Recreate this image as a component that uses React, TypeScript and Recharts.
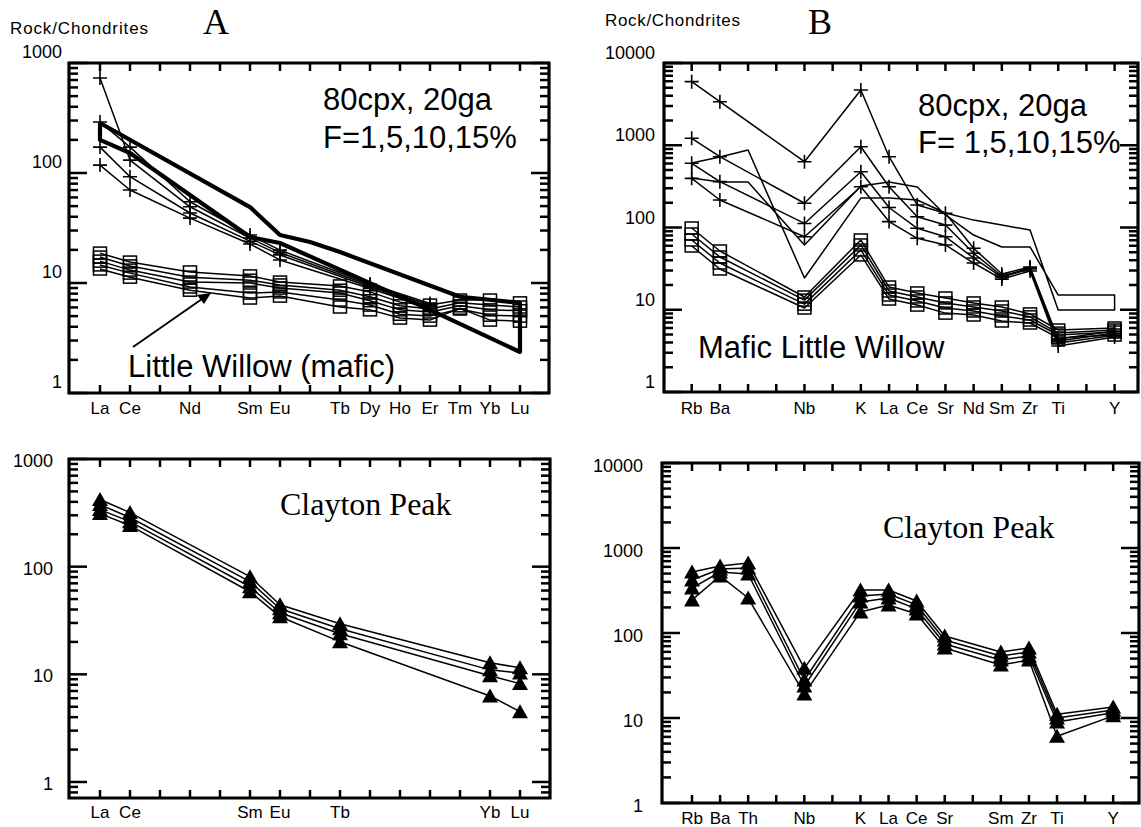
import React from 'react';
import { ScatterChart, Scatter, XAxis, YAxis, ReferenceArea } from 'recharts';

// element order on the x axes
const REE = ['La', 'Ce', 'Pr', 'Nd', 'Pm', 'Sm', 'Eu', 'Gd', 'Tb', 'Dy', 'Ho', 'Er', 'Tm', 'Yb', 'Lu'];
const reeLabelsLW = ['La', 'Ce', 'Nd', 'Sm', 'Eu', 'Tb', 'Dy', 'Ho', 'Er', 'Tm', 'Yb', 'Lu'];
const reeLabelsCP = ['La', 'Ce', 'Sm', 'Eu', 'Tb', 'Yb', 'Lu'];
const spiderLW = ['Rb', 'Ba', '', '', 'Nb', '', 'K', 'La', 'Ce', 'Sr', 'Nd', 'Sm', 'Zr', 'Ti', '', 'Y'];
const spiderCP = ['Rb', 'Ba', 'Th', '', 'Nb', '', 'K', 'La', 'Ce', 'Sr', '', 'Sm', 'Zr', 'Ti', '', 'Y'];

// A top - melt models (+)
const aCrossEl = ['La', 'Ce', 'Nd', 'Sm', 'Eu', 'Dy', 'Er'];
const aCross1 = [731, 131, 49.3, 25.6, 18.9, 9.5, 6.3];
const aCross2 = [291, 172, 54.8, 27.3, 19.9, 9.8, 6.5];
const aCross3 = [172, 92.5, 43.3, 24, 18, 9.2, 6.1];
const aCross4 = [118, 70, 38.9, 22.6, 16.2, 8.9, 5.9];

// A top - thick envelope (80cpx, 20ga)
const aEnvUpEl = ['La', 'Sm', 'Eu', 'Gd', 'Tb', 'Tm', 'Lu'];
const aEnvUp = [285, 49, 27.3, 23.6, 19.1, 7.5, 6.6];
const aEnvLoEl = ['Lu', 'Er', 'Eu', 'Sm', 'Ce', 'La'];
const aEnvLo = [2.36, 5.7, 23.1, 26.2, 152, 200];

// A top - Little Willow (mafic)
const aLwEl = ['La', 'Ce', 'Nd', 'Sm', 'Eu', 'Tb', 'Dy', 'Ho', 'Er', 'Tm', 'Yb', 'Lu'];
const aLw1 = [18.7, 15.5, 12.6, 11.6, 10.2, 9.4, 8.3, 6.7, 6.3, 7.0, 7.0, 6.6];
const aLw2 = [17.2, 14.3, 11.3, 10.6, 9.6, 8.6, 7.5, 6.2, 5.8, 6.6, 6.3, 6.05];
const aLw3 = [15.8, 13.1, 10.2, 10.0, 9.0, 8.1, 6.9, 5.7, 5.45, 6.2, 5.7, 5.6];
const aLw4 = [14.6, 12.3, 9.2, 8.1, 8.3, 7.0, 6.3, 5.2, 5.0, 5.8, 5.1, 5.0];
const aLw5 = [13.4, 11.3, 8.6, 7.3, 7.6, 6.05, 5.7, 4.8, 4.6, 5.9, 4.6, 4.5];

// A bottom - Clayton Peak
const aCpEl = ['La', 'Ce', 'Sm', 'Eu', 'Tb', 'Yb', 'Lu'];
const aCp1 = [420, 318, 80.7, 44.3, 29.5, 12.8, 11.5];
const aCp2 = [377, 286, 72.5, 40.7, 26.5, 11.0, 10.3];
const aCp3 = [339, 262, 65.1, 37.3, 23.8, 9.7, 8.2];
const aCp4 = [311, 241, 58.5, 34.3, 20.1, 6.3, 4.5];

// B top - melt models (+)
const bCrossEl = ['Rb', 'Ba', 'Nb', 'K', 'La', 'Ce', 'Sr', 'Nd', 'Sm', 'Zr', 'Ti', 'Y'];
const bCross1 = [5930, 3385, 631, 4695, 726, 188, 149, 55.9, 27.2, 33.1, 4.4, 5.5];
const bCross2 = [1215, 726, 197, 960, 313, 135, 107, 48.6, 25.7, 32.2, 4.17, 5.2];
const bCross3 = [603, 361, 112, 477, 175, 97.8, 77.3, 42.6, 25, 31.3, 3.94, 4.9];
const bCross4 = [396, 216, 77.3, 313, 118, 73.9, 61.3, 37, 23.6, 29.6, 3.63, 4.66];

// B top - thin envelope
const bEnvUpEl = ['Rb', 'Ba', 'Th', 'Nb', 'K', 'La', 'Ce', 'Sr', 'Nd', 'Sm', 'Zr', 'Ti', 'Y'];
const bEnvUp = [608, 719, 876, 24.3, 228, 228, 216, 150, 123, 107, 93.3, 9.93, 9.93];
const bEnvLoEl = ['Y', 'Ti', 'Zr', 'Sm', 'Nd', 'Sr', 'Ce', 'La', 'K', 'Nb', 'Th', 'Ba', 'Rb'];
const bEnvLo = [15.1, 15.1, 58, 58, 81, 142, 311, 357, 320, 61.3, 357, 357, 400];

// B top - Mafic Little Willow
const bLwEl = ['Rb', 'Ba', 'Nb', 'K', 'La', 'Ce', 'Sr', 'Nd', 'Sm', 'Zr', 'Ti', 'Y'];
const bLw1 = [98.6, 51.8, 14.3, 70.5, 18.9, 16, 13.9, 12.1, 10.8, 8.9, 5.67, 6.0];
const bLw2 = [83.4, 43.8, 13.1, 61.3, 16.9, 14.3, 12.1, 10.8, 9.66, 8.2, 5.2, 5.67];
const bLw3 = [70.5, 37, 11.7, 53.3, 15.1, 12.8, 10.5, 9.66, 8.4, 7.5, 4.93, 5.36];
const bLw4 = [59.6, 31.3, 10.5, 46.4, 13.5, 11.4, 9.1, 8.63, 7.3, 6.9, 4.54, 4.93];

// B bottom - Clayton Peak
const bCpEl = ['Rb', 'Ba', 'Th', 'Nb', 'K', 'La', 'Ce', 'Sr', 'Sm', 'Zr', 'Ti', 'Y'];
const bCp1 = [522, 614, 666, 38.6, 321, 321, 238, 92, 59.8, 66.6, 11.1, 13.5];
const bCp2 = [420, 566, 582, 28, 272, 288, 214, 82.8, 53.7, 59.8, 10, 12.4];
const bCp3 = [338, 522, 494, 23.8, 232, 258, 192, 74.3, 48.1, 53.7, 8.97, 11.5];
const bCp4 = [245, 469, 258, 19.2, 177, 214, 167, 66.6, 42.1, 48.1, 6.1, 10.6];

type Pt = { x: number; y: number };
type Mark = 'cross' | 'square' | 'tri' | 'none';
type Series = { data: Pt[]; mark: Mark; sw: number };

const pts = (order: string[], els: string[], vals: number[]): Pt[] =>
  els.map((e, i) => ({ x: order.indexOf(e), y: vals[i] }));

const polygon = (a: Pt[], b: Pt[]): Pt[] => [...a, ...b, a[0]];

const FONT = '"Liberation Sans", Arial, Helvetica, sans-serif';
const SERIF = '"Liberation Serif", "Times New Roman", serif';

const logTicks = (lo: number, hi: number) => {
  const out: number[] = [];
  for (let e = Math.floor(Math.log10(lo)); e <= Math.ceil(Math.log10(hi)); e++) {
    for (let k = 1; k <= 9; k++) {
      const v = +(k * Math.pow(10, e)).toPrecision(6);
      if (v >= lo * 0.999 && v <= hi * 1.001) out.push(v);
    }
  }
  return out;
};

const isMajor = (v: number) => Math.abs(Math.log10(v) - Math.round(Math.log10(v))) < 1e-6;

const shapes: Record<Mark, (p: any) => React.ReactElement> = {
  cross: (p) => (
    <path d={`M${p.cx - 7},${p.cy}H${p.cx + 7}M${p.cx},${p.cy - 7}V${p.cy + 7}`} stroke="#000" strokeWidth={1.6} fill="none" />
  ),
  square: (p) => (
    <rect x={p.cx - 6.5} y={p.cy - 6} width={13} height={12} fill="none" stroke="#000" strokeWidth={1.5} />
  ),
  tri: (p) => <path d={`M${p.cx},${p.cy - 7.5}L${p.cx + 8},${p.cy + 6.5}L${p.cx - 8},${p.cy + 6.5}Z`} fill="#000" />,
  none: () => <g />,
};

interface PanelProps {
  frame: { x: number; y: number; w: number; h: number };
  xDomain: [number, number];
  yDomain: [number, number];
  labels: string[]; // one per x position, '' = no label
  labelDy: number;
  labelGap: number;
  xLabelDy: number;
  series: Series[];
}

// space around the frame; axes are 1px wide so the margin is one less
const PAD = { top: 30, right: 12, bottom: 30, left: 72 };
const AX = 1;
const TICK_W = 2.5;
const FRAME_W = 3.2;

const Panel: React.FC<PanelProps> = ({ frame, xDomain, yDomain, labels, labelDy, labelGap, xLabelDy, series }) => {
  const yTicks = logTicks(yDomain[0], yDomain[1]);
  const xTicks = labels.map((_, i) => i);

  const leftTick = (p: any) => {
    const v = p.payload.value;
    const major = isMajor(v);
    return (
      <g>
        <line x1={p.x} x2={p.x + (major ? 18 : 9)} y1={p.y} y2={p.y} stroke="#000" strokeWidth={TICK_W} />
        {major && (
          <text x={p.x - labelGap} y={p.y + labelDy} textAnchor="end" dominantBaseline="central" fontSize={18} fontFamily={FONT} fill="#000">
            {v}
          </text>
        )}
      </g>
    );
  };
  const rightTick = (p: any) => {
    const major = isMajor(p.payload.value);
    return <line x1={p.x} x2={p.x - (major ? 18 : 9)} y1={p.y} y2={p.y} stroke="#000" strokeWidth={TICK_W} />;
  };
  const bottomTick = (p: any) => (
    <g>
      <line x1={p.x} x2={p.x} y1={p.y} y2={p.y - 8} stroke="#000" strokeWidth={TICK_W} />
      <text x={p.x} y={p.y + xLabelDy} textAnchor="middle" dominantBaseline="central" fontSize={17} fontFamily={FONT} fill="#000">
        {labels[p.payload.value]}
      </text>
    </g>
  );
  const topTick = (p: any) => <line x1={p.x} x2={p.x} y1={p.y} y2={p.y + 8} stroke="#000" strokeWidth={TICK_W} />;

  const common = {
    type: 'number' as const,
    allowDataOverflow: true,
    interval: 0 as const,
    tickSize: 0,
    tickMargin: 0,
    axisLine: false,
    tickLine: false,
  };

  return (
    <div style={{ position: 'absolute', left: frame.x - PAD.left, top: frame.y - PAD.top }}>
      <ScatterChart
        width={frame.w + PAD.left + PAD.right}
        height={frame.h + PAD.top + PAD.bottom}
        margin={{ top: PAD.top - AX, right: PAD.right - AX, bottom: PAD.bottom - AX, left: PAD.left - AX }}
      >
        <XAxis {...common} xAxisId="b" dataKey="x" domain={xDomain} ticks={xTicks} height={AX} tick={bottomTick} />
        <XAxis {...common} xAxisId="t" orientation="top" dataKey="x" domain={xDomain} ticks={xTicks} height={AX} tick={topTick} />
        <YAxis {...common} yAxisId="l" dataKey="y" scale="log" domain={yDomain} ticks={yTicks} width={AX} tick={leftTick} />
        <YAxis {...common} yAxisId="r" orientation="right" dataKey="y" scale="log" domain={yDomain} ticks={yTicks} width={AX} tick={rightTick} />
        {/* plot frame */}
        <ReferenceArea xAxisId="b" yAxisId="l" x1={xDomain[0]} x2={xDomain[1]} y1={yDomain[0]} y2={yDomain[1]}
          ifOverflow="visible" fill="none" fillOpacity={0} stroke="#000" strokeWidth={FRAME_W} strokeOpacity={1} />
        {series.map((s, i) => (
          <Scatter
            key={i}
            xAxisId="b"
            yAxisId="l"
            data={s.data}
            line={{ stroke: '#000', strokeWidth: s.sw, strokeLinejoin: 'round' }}
            lineJointType="linear"
            shape={shapes[s.mark]}
            isAnimationActive={false}
          />
        ))}
      </ScatterChart>
    </div>
  );
};

const reeTickLabels = (shown: string[]) => REE.map((e) => (shown.includes(e) ? e : ''));
const spiderWithTh = spiderLW.map((e, i) => (i === 2 ? 'Th' : e));

const aTopSeries: Series[] = [
  { data: polygon(pts(REE, aEnvUpEl, aEnvUp), pts(REE, aEnvLoEl, aEnvLo)), mark: 'none', sw: 4.2 },
  ...[aCross1, aCross2, aCross3, aCross4].map((v) => ({ data: pts(REE, aCrossEl, v), mark: 'cross' as Mark, sw: 1.5 })),
  ...[aLw1, aLw2, aLw3, aLw4, aLw5].map((v) => ({ data: pts(REE, aLwEl, v), mark: 'square' as Mark, sw: 1.5 })),
];

const aBotSeries: Series[] = [aCp1, aCp2, aCp3, aCp4].map((v) => ({ data: pts(REE, aCpEl, v), mark: 'tri' as Mark, sw: 1.5 }));

const bTopSeries: Series[] = [
  { data: polygon(pts(spiderWithTh, bEnvUpEl, bEnvUp), pts(spiderWithTh, bEnvLoEl, bEnvLo)), mark: 'none', sw: 1.5 },
  ...[bCross1, bCross2, bCross3, bCross4].map((v) => ({ data: pts(spiderLW, bCrossEl, v), mark: 'cross' as Mark, sw: 1.5 })),
  ...[bLw1, bLw2, bLw3, bLw4].map((v) => ({ data: pts(spiderLW, bLwEl, v), mark: 'square' as Mark, sw: 1.5 })),
];

const bBotSeries: Series[] = [bCp1, bCp2, bCp3, bCp4].map((v) => ({ data: pts(spiderCP, bCpEl, v), mark: 'tri' as Mark, sw: 1.5 }));

const Txt: React.FC<{ x: number; y: number; size: number; serif?: boolean; len?: number; children: React.ReactNode }> = ({ x, y, size, serif, len, children }) => (
  <text x={x} y={y} fontSize={size} fontFamily={serif ? SERIF : FONT} fill="#000" textLength={len}>
    {children}
  </text>
);

export default function App() {
  return (
    <div style={{ position: 'absolute', left: 0, top: 0, width: 1141, height: 827, overflow: 'hidden', background: '#fff' }}>
      <Panel frame={{ x: 69, y: 63, w: 480, h: 330 }} xDomain={[-1.033, 14.967]} yDomain={[1, 1000]}
        labels={reeTickLabels(reeLabelsLW)} labelDy={-11} labelGap={7} xLabelDy={15} series={aTopSeries} />
      <Panel frame={{ x: 69, y: 459, w: 481, h: 339 }} xDomain={[-1.033, 15]} yDomain={[0.71, 1000]}
        labels={reeTickLabels(reeLabelsCP)} labelDy={2} labelGap={16} xLabelDy={14} series={aBotSeries} />
      <Panel frame={{ x: 664, y: 63, w: 474, h: 329 }} xDomain={[-0.982, 15.83]} yDomain={[1, 10000]}
        labels={spiderLW} labelDy={-10} labelGap={9} xLabelDy={16} series={bTopSeries} />
      <Panel frame={{ x: 662, y: 463, w: 477, h: 340 }} xDomain={[-1.069, 15.92]} yDomain={[1, 10000]}
        labels={spiderCP} labelDy={3} labelGap={19} xLabelDy={15} series={bBotSeries} />

      <svg width={1141} height={827} style={{ position: 'absolute', left: 0, top: 0, pointerEvents: 'none' }}>
        <Txt x={10} y={34} size={17} len={138}>Rock/Chondrites</Txt>
        <Txt x={605} y={26} size={17} len={135}>Rock/Chondrites</Txt>
        <Txt x={203} y={34} size={36} serif>A</Txt>
        <Txt x={808} y={34} size={36} serif>B</Txt>

        <Txt x={323} y={110} size={31}>80cpx, 20ga</Txt>
        <Txt x={323} y={148} size={31}>F=1,5,10,15%</Txt>
        <Txt x={128} y={377} size={31}>Little Willow (mafic)</Txt>
        <line x1={133} y1={347} x2={202} y2={299} stroke="#000" strokeWidth={2} />
        <path d="M211,293 L197,295 L204,304 Z" fill="#000" />

        <Txt x={918} y={116} size={31}>80cpx, 20ga</Txt>
        <Txt x={918} y={153} size={31}>F= 1,5,10,15%</Txt>
        <Txt x={698} y={358} size={31}>Mafic Little Willow</Txt>

        <Txt x={280} y={515} size={32} serif>Clayton Peak</Txt>
        <Txt x={883} y={538} size={32} serif>Clayton Peak</Txt>
      </svg>
    </div>
  );
}
